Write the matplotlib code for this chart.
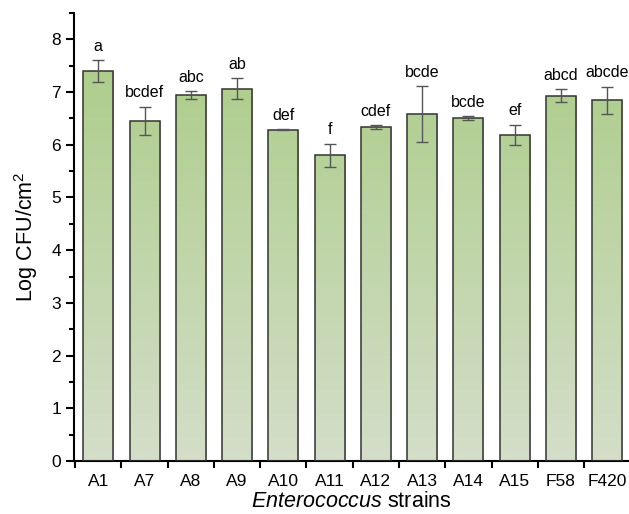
import numpy as np
import matplotlib.pyplot as plt
from matplotlib.colors import LinearSegmentedColormap
from matplotlib.ticker import MultipleLocator, FixedLocator

plt.rcParams['font.family'] = ['Liberation Sans', 'DejaVu Sans']
plt.rcParams['mathtext.fontset'] = 'custom'
plt.rcParams['mathtext.rm'] = 'Liberation Sans'
plt.rcParams['mathtext.it'] = 'Liberation Sans:italic'

# Data
strains = ["A1", "A7", "A8", "A9", "A10", "A11", "A12", "A13", "A14", "A15", "F58", "F420"]
means = [7.39, 6.45, 6.94, 7.06, 6.28, 5.80, 6.33, 6.58, 6.50, 6.19, 6.93, 6.84]
errs = [0.21, 0.27, 0.07, 0.20, 0.01, 0.22, 0.04, 0.53, 0.04, 0.19, 0.12, 0.26]
letters = ["a", "bcdef", "abc", "ab", "def", "f", "cdef", "bcde", "bcde", "ef", "abcd", "abcde"]

fig = plt.figure(figsize=(6.29, 5.14), dpi=100)
ax = fig.add_axes([0.118, 0.103, 0.882, 0.872])

x = np.arange(len(strains))
bars = ax.bar(x, means, width=0.65, color='none', edgecolor='#333333', linewidth=1.1, zorder=3)

# gradient fill clipped to each bar
cmap = LinearSegmentedColormap.from_list("grn", ["#d4dec9", "#a9cb84"])
grad = np.linspace(0, 1, 256).reshape(-1, 1)
for b in bars:
    im = ax.imshow(grad, cmap=cmap, origin='lower', aspect='auto',
                   extent=[b.get_x(), b.get_x() + b.get_width(), 0, 8.5], zorder=2)
    im.set_clip_path(b)

ax.errorbar(x, means, yerr=errs, fmt='none', ecolor='#555555', elinewidth=1.0,
            capsize=4, capthick=1.0, zorder=4)

for xi, m, e, lab in zip(x, means, errs, letters):
    ax.text(xi, m + e + 0.12, lab, ha='center', va='bottom', fontsize=11.5)

ax.set_xlim(-0.52, 11.47)
ax.set_ylim(0, 8.5)
ax.spines['top'].set_visible(False)
ax.spines['right'].set_visible(False)
ax.spines['left'].set_linewidth(1.5)
ax.spines['bottom'].set_linewidth(1.5)

ax.yaxis.set_major_locator(MultipleLocator(1))
ax.yaxis.set_minor_locator(MultipleLocator(0.5))
ax.set_xticks(x)
ax.set_xticklabels(strains)
ax.xaxis.set_minor_locator(FixedLocator(np.arange(-0.5, 11.5, 1.0)))
ax.tick_params(axis='x', which='major', length=0, labelsize=12.5, pad=9)
ax.tick_params(axis='x', which='minor', length=5, width=1.5)
ax.tick_params(axis='y', which='major', length=6, width=1.5, labelsize=12.5)
ax.tick_params(axis='y', which='minor', length=3.5, width=1.5)

ax.set_ylabel("Log CFU/cm$^2$", fontsize=15.5, labelpad=8)
ax.set_xlabel("$\\it{Enterococcus}$ strains", fontsize=15.5, labelpad=2)

fig.savefig("out.png", dpi=100)
